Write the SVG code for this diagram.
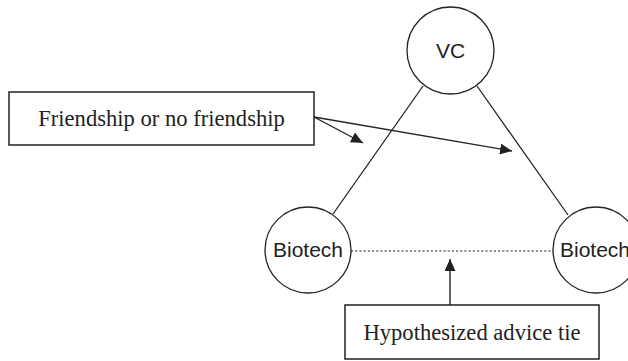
<svg xmlns="http://www.w3.org/2000/svg" width="628" height="361" viewBox="0 0 628 361">
<style>
.node{fill:#fff;stroke:#222;stroke-width:1.3}
.box{fill:#fff;stroke:#222;stroke-width:1.5}
.sans{font-family:"Liberation Sans",Arial,sans-serif;font-size:21px;fill:#222;text-anchor:middle}
.serif{font-family:"Liberation Serif","Times New Roman",serif;font-size:22.6px;fill:#222;text-anchor:middle}
.edge{stroke:#222;stroke-width:1.3;fill:none}
.dot{stroke:#222;stroke-width:1.2;stroke-dasharray:2.2,2;fill:none}
.arr{stroke:#222;stroke-width:1.4;fill:none;marker-end:url(#ah)}
</style>
<defs>
<marker id="ah" markerUnits="userSpaceOnUse" markerWidth="13" markerHeight="11" refX="12" refY="5.5" orient="auto">
<path d="M0,0 L12,5.5 L0,11 z" fill="#222"/>
</marker>
</defs>
<rect width="628" height="361" fill="#fff"/>
<g id="connectors">
<line class="edge" x1="423" y1="86" x2="333" y2="214"/>
<line class="edge" x1="477" y1="86" x2="568" y2="215"/>
<line class="dot" x1="351" y1="251" x2="553" y2="251"/>
<line class="arr" x1="314" y1="117" x2="363" y2="143"/>
<line class="arr" x1="314" y1="117" x2="512" y2="151"/>
<line class="arr" x1="450" y1="305" x2="450" y2="259"/>
</g>
<g id="vc">
<circle class="node" cx="450.5" cy="50.5" r="43.5"/>
<text class="sans" x="450.5" y="58">VC</text>
</g>
<g id="biotech1">
<circle class="node" cx="308" cy="250" r="43"/>
<text class="sans" x="308" y="257">Biotech</text>
</g>
<g id="biotech2">
<circle class="node" cx="596" cy="250" r="43"/>
<text class="sans" x="595" y="257">Biotech</text>
</g>
<g id="friendship">
<rect class="box" x="9" y="92" width="305" height="53"/>
<text class="serif" x="161.5" y="126">Friendship or no friendship</text>
</g>
<g id="advice">
<rect class="box" x="345" y="305" width="254" height="54"/>
<text class="serif" x="472" y="340">Hypothesized advice tie</text>
</g>
</svg>
